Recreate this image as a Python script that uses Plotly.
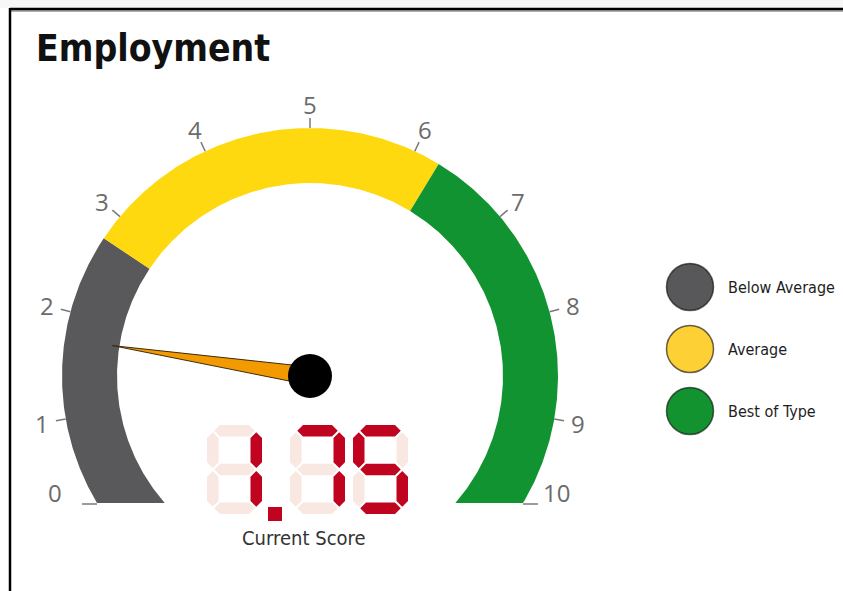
import numpy as np
import plotly.graph_objects as go

# ---------------- data ----------------
title_text = "Employment"
gauge_ticks = list(range(0, 11))
gauge_tick_labels = [str(v) for v in gauge_ticks]
band_names = ["Below Average", "Average", "Best of Type"]
band_from = [0, 2.75, 6.25]
band_to = [2.75, 6.25, 10]
current_score = 1.75
score_caption = "Current Score"

# ---------------- style / layout ----------------
W, H = 843, 591
band_colors = ["#59595b", "#ffd90f", "#129331"]
legend_colors = ["#58585a", "#fdd135", "#139230"]
NARROW = "DejaVu Sans Condensed, Liberation Sans Narrow, Arial Narrow, sans-serif"
TICKFONT = "Open Sans, DejaVu Sans, sans-serif"

CX, CY = 310, 215          # gauge centre (y up)
R_OUT, R_IN = 248, 193
CLIP_Y = 88                # flat bottom of the arc
ANG0, SWEEP = 215.0, 250.0
VMIN, VMAX = gauge_ticks[0], gauge_ticks[-1]


def theta(v):
    return ANG0 - (v - VMIN) / (VMAX - VMIN) * SWEEP


def pt(r, a):
    a = np.radians(a)
    return CX + r * np.cos(a), CY + r * np.sin(a)


hclip = CY - CLIP_Y
a_out_L = 180 + np.degrees(np.arcsin(hclip / R_OUT))
a_out_R = -np.degrees(np.arcsin(hclip / R_OUT))
a_in_L = 180 + np.degrees(np.arcsin(hclip / R_IN))
a_in_R = -np.degrees(np.arcsin(hclip / R_IN))

fig = go.Figure()

# bands
nb = len(band_names)
for i in range(nb):
    so = a_out_L if i == 0 else theta(band_from[i])
    si = a_in_L if i == 0 else theta(band_from[i])
    eo = a_out_R if i == nb - 1 else theta(band_to[i])
    ei = a_in_R if i == nb - 1 else theta(band_to[i])
    ao = np.linspace(so, eo, 200)
    ai = np.linspace(ei, si, 200)
    xo, yo = pt(R_OUT, ao)
    xi, yi = pt(R_IN, ai)
    xs = np.concatenate([xo, xi, xo[:1]])
    ys = np.concatenate([yo, yi, yo[:1]])
    fig.add_trace(go.Scatter(x=xs, y=ys, mode="lines", fill="toself",
                             fillcolor=band_colors[i], line=dict(width=0),
                             hoverinfo="skip", showlegend=False))

# ticks and labels
tx, ty = [], []
annotations = []
tickfont = dict(family=TICKFONT, size=24, color="#6b6b6b")
for v, lab in zip(gauge_ticks, gauge_tick_labels):
    if v == VMIN:
        xe = pt(R_OUT, a_out_L)[0]
        tx += [xe, xe - 15, None]
        ty += [CLIP_Y - 1, CLIP_Y - 1, None]
        annotations.append(dict(x=xe - 33, y=CLIP_Y + 11, text=lab, xanchor="right",
                                yanchor="middle", showarrow=False, font=tickfont))
    elif v == VMAX:
        xe = pt(R_OUT, a_out_R)[0]
        tx += [xe, xe + 15, None]
        ty += [CLIP_Y - 1, CLIP_Y - 1, None]
        annotations.append(dict(x=xe + 18, y=CLIP_Y + 11, text=lab, xanchor="left",
                                yanchor="middle", showarrow=False, font=tickfont))
    else:
        a = theta(v)
        x1, y1 = pt(R_OUT, a)
        x2, y2 = pt(R_OUT + 10, a)
        tx += [x1, x2, None]
        ty += [y1, y2, None]
        lx, ly = pt(R_OUT + 24, a)
        annotations.append(dict(x=lx, y=ly, text=lab, xanchor="center", yanchor="middle",
                                showarrow=False, font=tickfont))
fig.add_trace(go.Scatter(x=tx, y=ty, mode="lines", line=dict(color="#7a7a7a", width=1.5),
                         hoverinfo="skip", showlegend=False))

# needle
a = theta(current_score)
tipx, tipy = pt(R_IN + 7, a)
nx, ny = -np.sin(np.radians(a)), np.cos(np.radians(a))
hw = 9
fig.add_trace(go.Scatter(x=[tipx, CX + hw * nx, CX - hw * nx, tipx],
                         y=[tipy, CY + hw * ny, CY - hw * ny, tipy],
                         mode="lines", fill="toself", fillcolor="#f29a00",
                         line=dict(color="#3a2c10", width=1), hoverinfo="skip", showlegend=False))
fig.add_trace(go.Scatter(x=[CX], y=[CY], mode="markers",
                         marker=dict(size=44, color="#000000", line=dict(width=0)),
                         hoverinfo="skip", showlegend=False))

# seven-segment display
SEGS = {'0': 'abcdef', '1': 'bc', '2': 'abged', '3': 'abgcd', '4': 'fgbc',
        '5': 'afgcd', '6': 'afgedc', '7': 'abc', '8': 'abcdefg', '9': 'abcdfg'}
DW, DH, T, G = 55, 89, 11.5, 1.5
DGAP, DP_EXTRA = 8, 20
DBOT = 77
h2 = T / 2


def hseg(x1, x2, y):
    return [x1, x1 + h2, x2 - h2, x2, x2 - h2, x1 + h2, x1], [y, y + h2, y + h2, y, y - h2, y - h2, y]


def vseg(x, y1, y2):
    return [x, x + h2, x + h2, x, x - h2, x - h2, x], [y1, y1 + h2, y2 - h2, y2, y2 - h2, y1 + h2, y1]


def seg_poly(s, x0, y0):
    if s == 'a':
        return hseg(x0 + h2 + G, x0 + DW - h2 - G, y0 + DH - h2)
    if s == 'g':
        return hseg(x0 + h2 + G, x0 + DW - h2 - G, y0 + DH / 2)
    if s == 'd':
        return hseg(x0 + h2 + G, x0 + DW - h2 - G, y0 + h2)
    if s == 'f':
        return vseg(x0 + h2, y0 + DH / 2 + G, y0 + DH - h2 - G)
    if s == 'b':
        return vseg(x0 + DW - h2, y0 + DH / 2 + G, y0 + DH - h2 - G)
    if s == 'e':
        return vseg(x0 + h2, y0 + h2 + G, y0 + DH / 2 - G)
    if s == 'c':
        return vseg(x0 + DW - h2, y0 + h2 + G, y0 + DH / 2 - G)


score_str = f"{current_score:.2f}"
chars = [c for c in score_str if c != '.']
dp_after = score_str.index('.') - 1
x = CX - 103
gx, gy, rx, ry = [], [], [], []
for k, c in enumerate(chars):
    for s in 'abcdefg':
        px, py = seg_poly(s, x, DBOT)
        if s in SEGS[c]:
            rx += px + [None]
            ry += py + [None]
        else:
            gx += px + [None]
            gy += py + [None]
    if k == dp_after:
        dx0 = x + DW + 6
        rx += [dx0, dx0 + 14, dx0 + 14, dx0, dx0, None]
        ry += [DBOT - 7, DBOT - 7, DBOT + 7, DBOT + 7, DBOT - 7, None]
        x += DW + DGAP + DP_EXTRA
    else:
        x += DW + DGAP
fig.add_trace(go.Scatter(x=gx, y=gy, mode="lines", fill="toself", fillcolor="#f9e8e1",
                         line=dict(width=0), hoverinfo="skip", showlegend=False))
fig.add_trace(go.Scatter(x=rx, y=ry, mode="lines", fill="toself", fillcolor="#c0041f",
                         line=dict(width=0), hoverinfo="skip", showlegend=False))

annotations.append(dict(x=CX - 6, y=DBOT - 24, text=score_caption, showarrow=False,
                        xanchor="center", yanchor="middle",
                        font=dict(family=NARROW, size=20, color="#333333")))

# legend
LX, LY0, LDY = 690, 304, 62
ly = [LY0 - i * LDY for i in range(nb)]
fig.add_trace(go.Scatter(x=[LX] * nb, y=ly, mode="markers",
                         marker=dict(size=47, color=legend_colors,
                                     line=dict(color="rgba(0,0,0,0.6)", width=1.5)),
                         hoverinfo="skip", showlegend=False))
for name, yy in zip(band_names, ly):
    annotations.append(dict(x=LX + 36, y=yy, text=name, showarrow=False,
                            xanchor="left", yanchor="middle",
                            font=dict(family=NARROW, size=16, color="#1e1e1e")))

# title
annotations.append(dict(x=34, y=H - 48, text="<b>" + title_text + "</b>", showarrow=False,
                        xanchor="left", yanchor="middle",
                        font=dict(family=NARROW, size=37, color="#111111")))

shapes = [
    dict(type="rect", xref="x", yref="y", x0=0, x1=W, y0=H - 8, y1=H, fillcolor="#f7f7f7",
         line=dict(width=0), layer="below"),
    dict(type="line", xref="x", yref="y", x0=10, x1=W, y0=H - 11, y1=H - 11,
         line=dict(color="#b0b0b0", width=2)),
    dict(type="line", xref="x", yref="y", x0=10, x1=W, y0=H - 9, y1=H - 9,
         line=dict(color="#000000", width=2.5)),
    dict(type="line", xref="x", yref="y", x0=10, x1=10, y0=0, y1=H - 8,
         line=dict(color="#000000", width=2.5)),
]

fig.update_layout(
    width=W, height=H, autosize=False,
    margin=dict(l=0, r=0, t=0, b=0),
    paper_bgcolor="white", plot_bgcolor="white",
    xaxis=dict(range=[0, W], visible=False, fixedrange=True),
    yaxis=dict(range=[0, H], visible=False, fixedrange=True),
    annotations=annotations, shapes=shapes, showlegend=False,
)
fig.write_html("out.html", config={"displayModeBar": False},
               post_script="document.body.style.margin='0';document.body.style.padding='0';"
                           "document.body.style.overflow='hidden';")
